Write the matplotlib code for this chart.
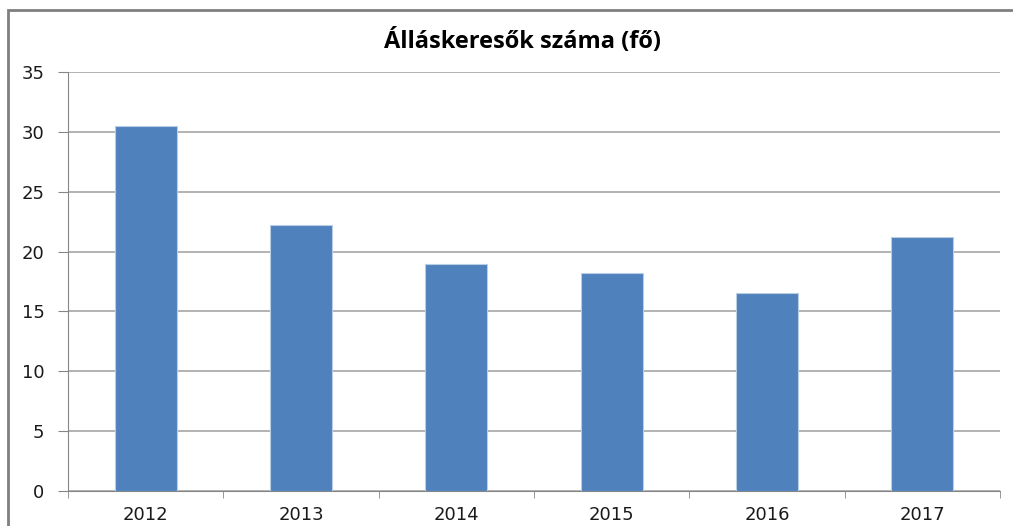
import matplotlib.pyplot as plt
from matplotlib.patches import Rectangle

years = ["2012", "2013", "2014", "2015", "2016", "2017"]
values = [30.5, 22.25, 19.0, 18.2, 16.5, 21.25]
title = "Álláskeresők száma (fő)"

W, H = 1013, 526
fig = plt.figure(figsize=(W / 100, H / 100), dpi=100)
ax = fig.add_axes([68 / W, 1 - 491 / H, (1000 - 68) / W, (491 - 72) / H])

x = range(len(years))
ax.bar(x, values, width=0.4, color="#4F81BD", edgecolor="#B9CDE5", linewidth=0.8, zorder=3)

ax.set_xlim(-0.5, len(years) - 0.5)
ax.set_ylim(0, 35)
ax.set_yticks(range(0, 36, 5))
ax.set_xticks(list(x))
ax.set_xticklabels(years)
ax.set_xticks([i - 0.5 for i in range(len(years) + 1)], minor=True)
ax.tick_params(axis="x", which="major", length=0, pad=11)
ax.tick_params(axis="x", which="minor", length=5, color="#868686", direction="out")
ax.tick_params(axis="y", length=7, color="#868686", pad=10)
for lab in ax.get_xticklabels() + ax.get_yticklabels():
    lab.set_fontsize(13)
    lab.set_family("DejaVu Sans")
    lab.set_color("#1a1a1a")

ax.grid(axis="y", color="#A6A6A6", linewidth=1.2, zorder=0)
for side in ["top", "right"]:
    ax.spines[side].set_visible(False)
ax.spines["left"].set_color("#868686")
ax.spines["bottom"].set_color("#868686")

fig.text(522 / W, 1 - 41 / H, title, ha="center", va="center",
         fontsize=17, fontweight="bold", family="Open Sans")

# chart frame
fig.patches.append(Rectangle((8 / W, -0.05), 1.2, 1 - 10.5 / H + 0.05, transform=fig.transFigure,
                             fill=False, edgecolor="#7F7F7F", linewidth=2))

fig.savefig("out.png", dpi=100)
